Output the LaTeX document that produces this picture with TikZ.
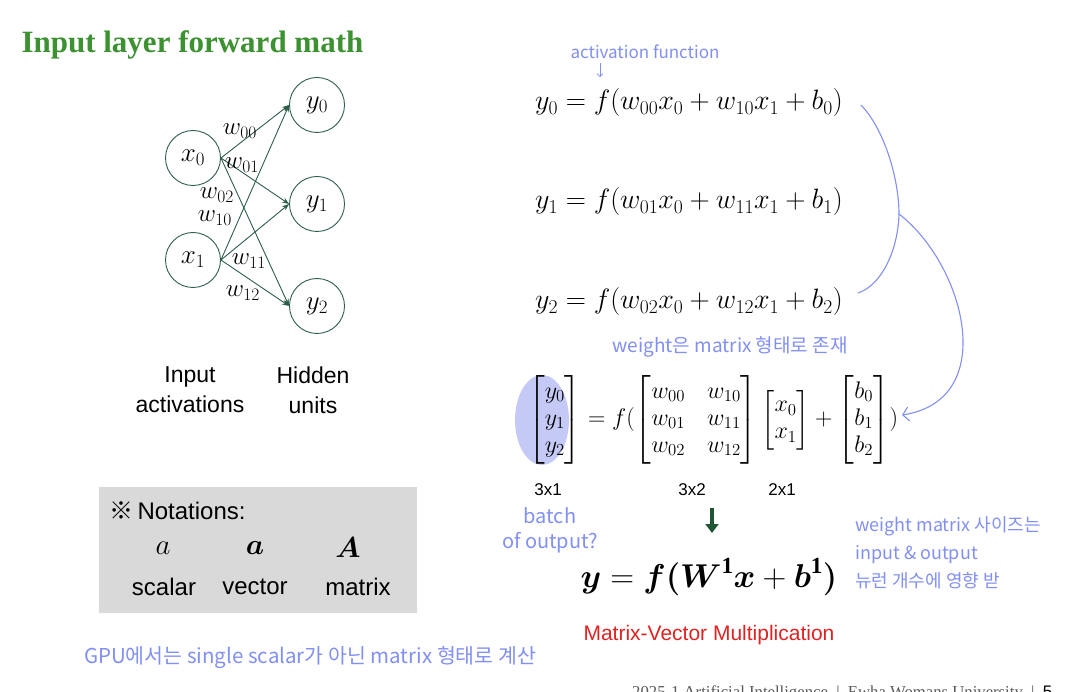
\documentclass[tikz,border=0pt]{standalone}
\usepackage{fix-cm}
\usepackage{amsmath}
\usepackage{fontspec}
\setmainfont{Liberation Serif}
\setsansfont{Liberation Sans}
\newfontfamily\hand{Noto Sans CJK KR}
\usetikzlibrary{arrows.meta}
\definecolor{ttl}{HTML}{3C9130}
\definecolor{net}{HTML}{2E5E4A}
\definecolor{pen}{HTML}{8290F2}
\definecolor{hl}{HTML}{C5C9F6}
\definecolor{boxg}{HTML}{D9D9D9}
\definecolor{mvred}{HTML}{E02222}
\definecolor{darr}{HTML}{1F5636}

\begin{document}
\begin{tikzpicture}[
    x=1pt, y=-1pt, >=Stealth,
    unit/.style={circle, draw=net, line width=0.9pt, minimum size=55pt, inner sep=0pt,
        font=\fontsize{27}{30}\selectfont},
    wlab/.style={inner sep=0pt, font=\fontsize{25}{28}\selectfont},
    lab/.style={font=\sffamily\fontsize{23}{30}\selectfont, align=center},
    eqn/.style={inner sep=0pt, font=\fontsize{28}{32}\selectfont},
    dimlab/.style={font=\sffamily\fontsize{17}{20}\selectfont},
    note/.style={text=pen, inner sep=0pt},
    penline/.style={pen, line width=1.1pt},
]
% canvas in pixels, y grows downwards
\useasboundingbox (0,0) rectangle (1082,692);
\fill[white] (0,0) rectangle (1082,692);

\node[anchor=west, text=ttl, font=\bfseries\fontsize{31}{36}\selectfont] (title) at (18,45)
    {Input layer forward math};

% network
\node[unit] (x0) at (193,158) {$x_0$};
\node[unit] (x1) at (193,260) {$x_1$};
\node[unit] (y0) at (317,105) {$y_0$};
\node[unit] (y1) at (317,204) {$y_1$};
\node[unit] (y2) at (317,306) {$y_2$};
\foreach \s in {x0,x1}
  \foreach \t in {y0,y1,y2}
    \draw[->, net, line width=0.9pt] (\s.east) -- (\t.west);

\node[wlab] (w00) at (240,131) {$w_{00}$};
\node[wlab] (w01) at (242,165) {$w_{01}$};
\node[wlab] (w02) at (217,195) {$w_{02}$};
\node[wlab] (w10) at (215,218) {$w_{10}$};
\node[wlab] (w11) at (249,261) {$w_{11}$};
\node[wlab] (w12) at (243,293) {$w_{12}$};

\node[lab] (inlab) at (190,390) {Input\\activations};
\node[lab] (hidlab) at (313,390) {Hidden\\units};

% notations box
\node[fill=boxg, minimum width=318pt, minimum height=126pt] (nbox) at (258,550) {};
\node[anchor=west, font=\sffamily\fontsize{24}{28}\selectfont] (ntitle) at (106,511)
    {{\hand ※}\,Notations:};
\node[font=\fontsize{29}{32}\selectfont] (sa) at (163,548) {$a$};
\node[font=\fontsize{29}{32}\selectfont] (va) at (255,548) {$\boldsymbol{a}$};
\node[font=\fontsize{29}{32}\selectfont] (ma) at (348,548) {$\boldsymbol{A}$};
\node[font=\sffamily\fontsize{24}{28}\selectfont] (sl) at (164,587) {scalar};
\node[font=\sffamily\fontsize{24}{28}\selectfont] (vl) at (255,587) {vector};
\node[font=\sffamily\fontsize{24}{28}\selectfont] (ml) at (358,587) {matrix};

% per-unit equations
\node[eqn, anchor=west] (eq0) at (535,103) {$y_0 = f(w_{00}x_0 + w_{10}x_1 + b_0)$};
\node[eqn, anchor=west] (eq1) at (535,202) {$y_1 = f(w_{01}x_0 + w_{11}x_1 + b_1)$};
\node[eqn, anchor=west] (eq2) at (535,302) {$y_2 = f(w_{02}x_0 + w_{12}x_1 + b_2)$};

\node[note, font=\hand\fontsize{17}{20}\selectfont] (act) at (645,52) {activation function};
\draw[pen, line width=0.8pt, -{Straight Barb[length=3pt,width=6pt]}]
    ([xshift=-45pt,yshift=-4pt]act.south) -- ++(0,14);

% matrix form
\fill[hl] (542,420) ellipse [x radius=27, y radius=45];
\node[inner sep=0pt, anchor=west, font=\fontsize{24}{27}\selectfont] (mat) at (528,420)
    {\setlength\arraycolsep{11pt}$\begin{bmatrix}y_0\\y_1\\y_2\end{bmatrix}
     = f(\begin{bmatrix}w_{00} & w_{10}\\ w_{01} & w_{11}\\ w_{02} & w_{12}\end{bmatrix}
     \begin{bmatrix}x_0\\x_1\end{bmatrix}
     + \begin{bmatrix}b_0\\b_1\\b_2\end{bmatrix})$};
\node[note, font=\hand\fontsize{19}{22}\selectfont] (wnote) at (730,347)
    {weight은 matrix 형태로 존재};

% bracket from the three equations to the matrix form
\coordinate (c0) at (861,105);
\coordinate (c2) at (858,293);
\coordinate (jn) at (899,214);
\coordinate (tip) at (902,415);
\draw[penline] (c0) .. controls (885,130) and (899,180) .. (jn)
    .. controls (898,250) and (882,285) .. (c2);
\draw[penline, -{Straight Barb[length=6pt,width=14pt]}]
    (jn) .. controls (965,265) and (1000,400) .. (tip);

\node[dimlab] (d31) at (548,490) {3x1};
\node[dimlab] (d32) at (692,490) {3x2};
\node[dimlab] (d21) at (782,490) {2x1};

\node[note, align=center, font=\hand\fontsize{20}{25}\selectfont] (batch) at (550,530)
    {batch\\of output?};

% compact form
\node[font=\fontsize{33}{38}\selectfont] (beq) at (709,577)
    {$\boldsymbol{y} = \boldsymbol{f}\boldsymbol{(}\boldsymbol{W}^{\mathbf{1}}\boldsymbol{x}
     + \boldsymbol{b}^{\mathbf{1}}\boldsymbol{)}$};
\coordinate (dtip) at (712,533);
\draw[darr, line width=3.5pt, -{Triangle[length=9pt,width=13pt]}]
    ([xshift=20pt,yshift=-8pt]d32.south) -- (dtip);

\node[note, anchor=west, align=left, font=\hand\fontsize{18}{28}\selectfont] (snote) at (855,553)
    {weight matrix 사이즈는\\input \& output\\뉴런 개수에 영향 받};

\node[text=mvred, font=\sffamily\fontsize{21}{25}\selectfont] (mvm) at (709,635)
    {Matrix-Vector Multiplication};
\node[note, font=\hand\fontsize{20.5}{24}\selectfont] (gpu) at (310,658)
    {GPU에서는 single scalar가 아닌 matrix 형태로 계산};

% footer
\node[anchor=base west, inner sep=0pt, text=black!65, font=\fontsize{16.7}{18}\selectfont]
    (foot) at (632,697)
    {2025-1 Artificial Intelligence \ | \ Ewha Womans University \ | \ \textsf{\color{black}5}};
\end{tikzpicture}
\end{document}
